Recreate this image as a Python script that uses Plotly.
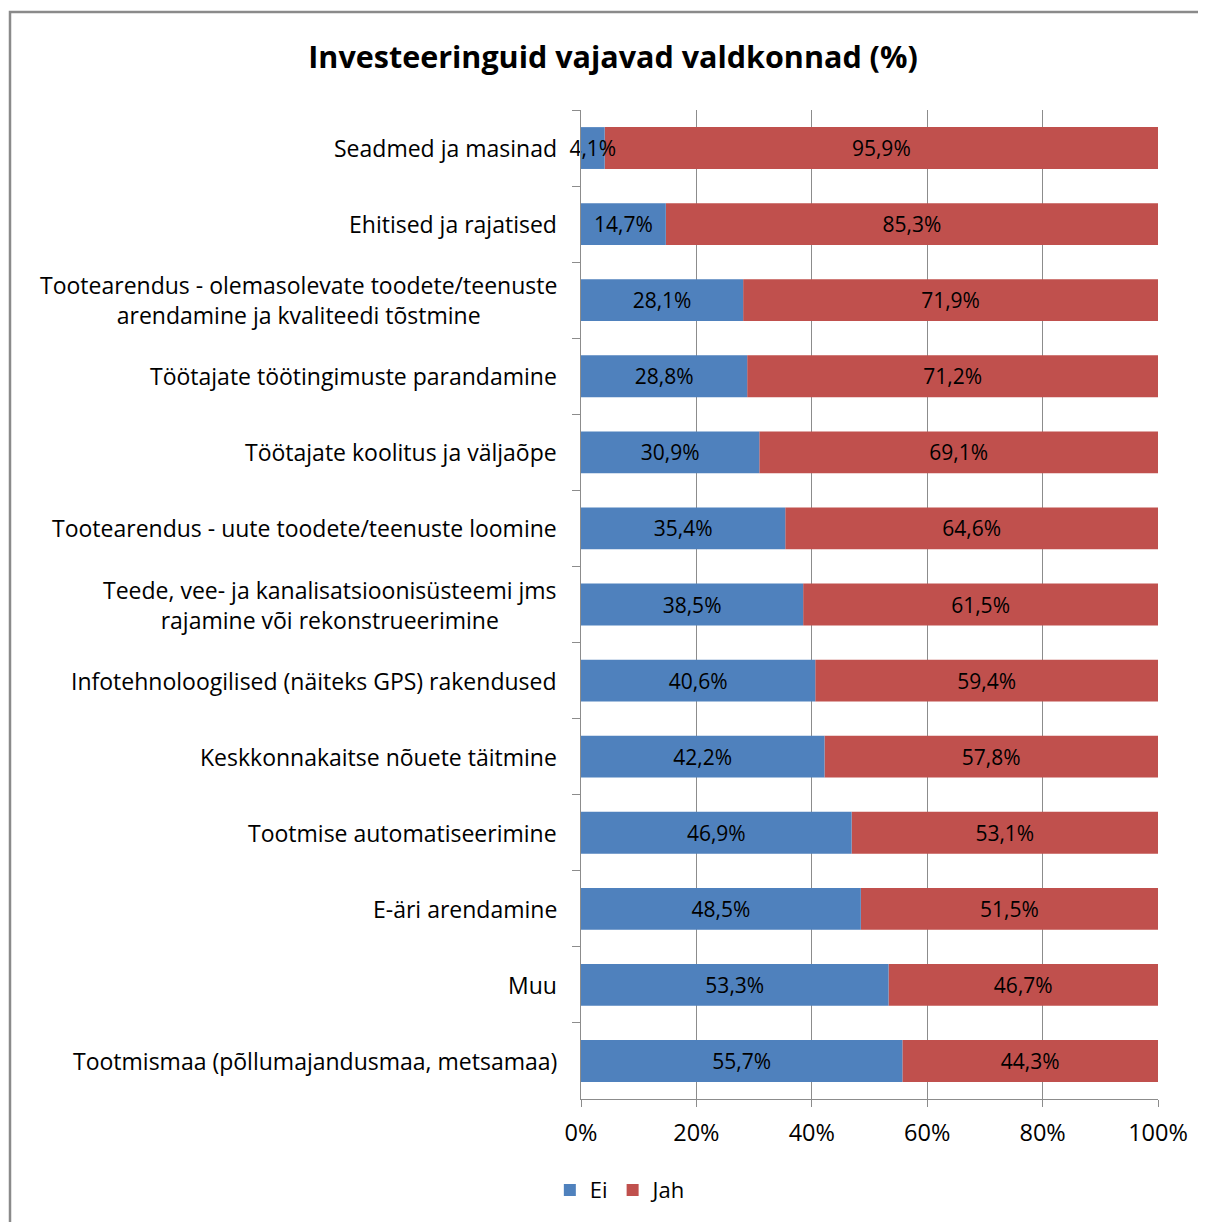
import plotly.graph_objects as go

# Investeeringuid vajavad valdkonnad (%)
categories = [
    "Seadmed ja masinad",
    "Ehitised ja rajatised",
    "Tootearendus - olemasolevate toodete/teenuste<br>arendamine ja kvaliteedi tõstmine",
    "Töötajate töötingimuste parandamine",
    "Töötajate koolitus ja väljaõpe",
    "Tootearendus - uute toodete/teenuste loomine",
    "Teede, vee- ja kanalisatsioonisüsteemi jms<br>rajamine või rekonstrueerimine",
    "Infotehnoloogilised (näiteks GPS) rakendused",
    "Keskkonnakaitse nõuete täitmine",
    "Tootmise automatiseerimine",
    "E-äri arendamine",
    "Muu",
    "Tootmismaa (põllumajandusmaa, metsamaa)",
]
ei = [4.1, 14.7, 28.1, 28.8, 30.9, 35.4, 38.5, 40.6, 42.2, 46.9, 48.5, 53.3, 55.7]
jah = [95.9, 85.3, 71.9, 71.2, 69.1, 64.6, 61.5, 59.4, 57.8, 53.1, 51.5, 46.7, 44.3]
x_ticks = [0, 20, 40, 60, 80, 100]

FONT = "Open Sans"
W, H = 1198, 1214  # page body has an 8px margin


def fmt(v):
    return f"{v:.1f}%".replace(".", ",")


fig = go.Figure()
# "Jah" drawn first starting where "Ei" ends, so the "Ei" labels sit on top
fig.add_trace(go.Bar(
    y=categories, x=jah, base=ei, name="Jah", orientation="h", legendrank=2,
    marker=dict(color="#C0504D", line=dict(width=0)),
    text=[fmt(v) for v in jah], textposition="inside", insidetextanchor="middle",
    textangle=0, cliponaxis=False,
    textfont=dict(color="#000000", size=21, family=FONT),
))
fig.add_trace(go.Bar(
    y=categories, x=ei, name="Ei", orientation="h", legendrank=1,
    marker=dict(color="#4F81BD", line=dict(width=0)),
    text=[fmt(v) for v in ei], textposition="inside", insidetextanchor="middle",
    textangle=0, cliponaxis=False,
    textfont=dict(color="#000000", size=21, family=FONT),
))

# category labels as annotations so two-line labels are centred
for c in categories:
    fig.add_annotation(
        x=0, y=c, xref="x", yref="y", text=c, showarrow=False,
        xanchor="right", yanchor="middle", align="center", xshift=-22,
        font=dict(size=23, family=FONT, color="#000000"),
    )

# outer frame
fig.add_shape(type="rect", xref="paper", yref="paper",
              x0=-0.9896, x1=1.3, y0=-0.3, y1=1.099,
              line=dict(color="#8a8a8a", width=2.5), layer="below")

fig.update_layout(
    barmode="overlay",
    bargap=0.45,
    width=W, height=H,
    margin=dict(l=573, r=48, t=102, b=122),
    paper_bgcolor="white", plot_bgcolor="white",
    font=dict(family=FONT, size=20, color="#000000"),
    title=dict(text="<b>Investeeringuid vajavad valdkonnad (%)</b>",
               x=605 / W, xanchor="center", y=1 - 49 / H, yanchor="middle",
               font=dict(size=30.5, family=FONT, color="#000000")),
    uniformtext=dict(minsize=21, mode="show"),
    legend=dict(orientation="h", x=-0.054, xanchor="left", y=-0.091, yanchor="middle",
                font=dict(size=22, family=FONT), itemwidth=30, tracegroupgap=0),
    showlegend=True,
)
fig.update_xaxes(
    range=[0, 100], tickvals=x_ticks, ticktext=[f"{t}%" for t in x_ticks],
    showgrid=True, gridcolor="#8c8c8c", gridwidth=1.3,
    showline=True, linecolor="#8c8c8c", linewidth=1.3,
    ticks="outside", ticklen=7, tickcolor="#8c8c8c", tickwidth=1.3,
    ticklabelstandoff=6,
    tickfont=dict(size=23.5, family=FONT), zeroline=False,
)
fig.update_yaxes(
    autorange="reversed", showticklabels=False,
    showline=True, linecolor="#8c8c8c", linewidth=1.3,
    ticks="outside", ticklen=8, tickcolor="#8c8c8c", tickwidth=1.3,
    tickson="boundaries", showgrid=False,
)

fig.write_html("out.html")
